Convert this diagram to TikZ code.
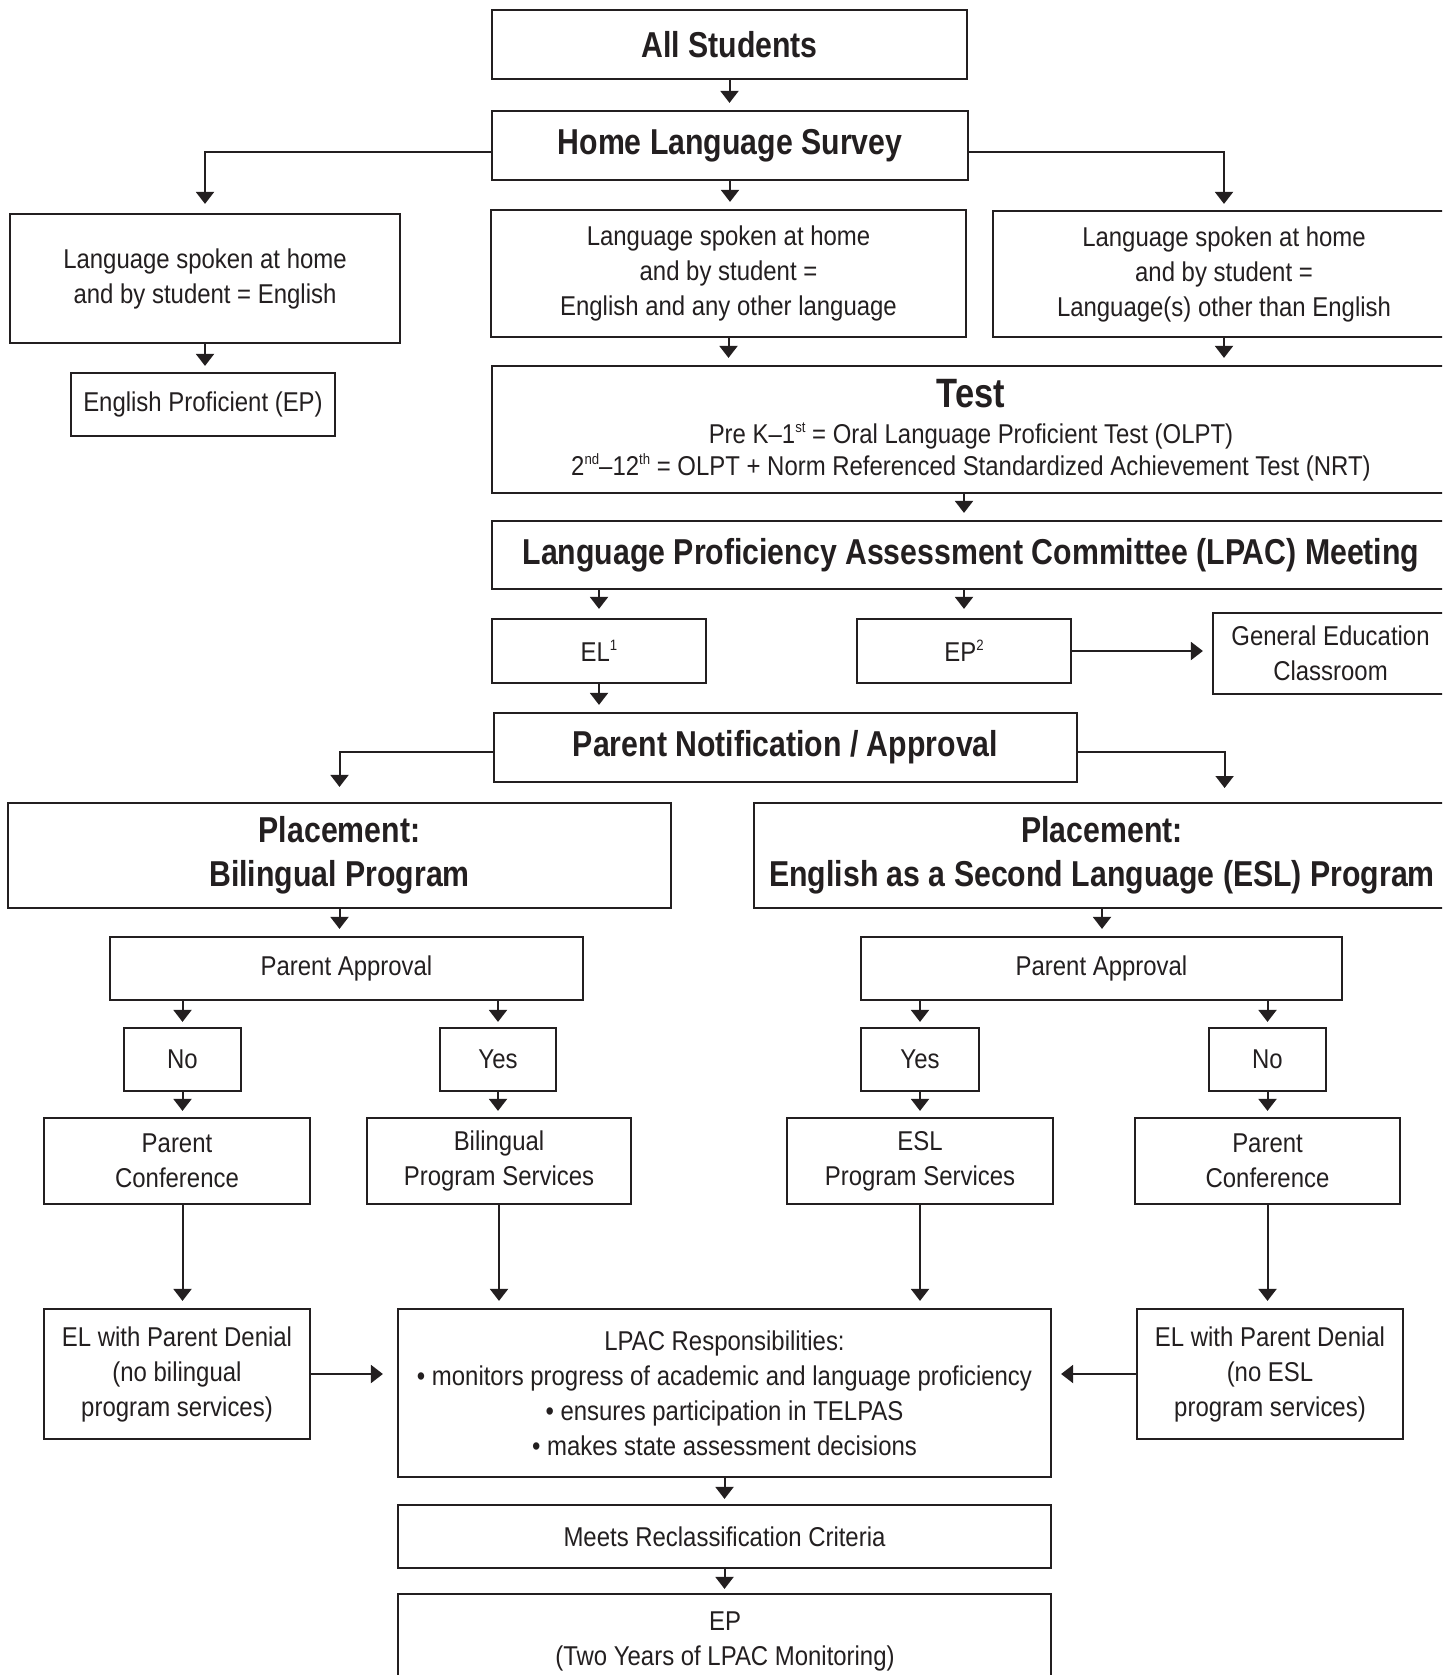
\documentclass[tikz,border=0pt]{standalone}
\usepackage{fontspec}
\setmainfont{Liberation Sans}[FakeStretch=0.88]
\newfontfamily\bfam{Liberation Sans}[FakeStretch=0.84]
\usetikzlibrary{arrows.meta}
\definecolor{ink}{HTML}{231F20}
\newcommand\fReg{\fontsize{13.6pt}{17.5pt}\selectfont}
\newcommand\fBold{\bfam\fontsize{18pt}{22pt}\selectfont\bfseries}
\newcommand\fTest{\bfam\fontsize{20.5pt}{24pt}\selectfont\bfseries}
\newcommand\sps[1]{\raisebox{0.75ex}{\fontsize{7.5pt}{7.5pt}\selectfont #1}}
\tikzset{
  bx/.style={draw=ink, line width=1.1pt, inner sep=0pt, align=center, text=ink, font=\fReg},
  bb/.style={bx, font=\fBold},
  wh/.style 2 args={minimum width=#1*0.5pt, minimum height=#2*0.5pt},
  txt/.style={anchor=base, text=ink, inner sep=0pt},
  arr/.style={draw=ink, line width=1pt, -{Triangle[width=9pt,length=6pt]}, shorten >=3.5pt},
}
\begin{document}
\begin{tikzpicture}[x=0.5pt,y=-0.5pt]
\useasboundingbox (0,0) rectangle (1442,1675);
\fill[white] (0,0) rectangle (1442,1675);
\clip (0,0) rectangle (1442,1675);

% boxes
\node[bb, wh={475}{69}] (all) at (729.5,44.5) {All Students};
\node[bb, wh={476}{69}] (hls) at (730,145.5) {Home Language Survey};
\node[bx, wh={390}{129}] (eng) at (205,278.5) {Language spoken at home\\and by student = English};
\node[bx, wh={264}{63}] (ep0) at (203,404.5) {English Proficient (EP)};
\node[bx, wh={475}{127}] (mix) at (728.5,273.5) {Language spoken at home\\and by student =\\English and any other language};
\node[bx, wh={462}{126}] (oth) at (1224,274) {Language spoken at home\\and by student =\\Language(s) other than English};
\node[bx, wh={958}{127}] (test) at (971,429.5) {};
\node[txt, font=\fTest] (testA) at (971,407) {Test};
\node[txt, font=\fReg] (testB) at (971,443) {Pre K--1\sps{st} = Oral Language Proficient Test (OLPT)};
\node[txt, font=\fReg] (testC) at (971,475) {2\sps{nd}--12\sps{th} = OLPT + Norm Referenced Standardized Achievement Test (NRT)};
\node[bb, wh={958}{68}] (lpac) at (971,555) {Language Proficiency Assessment Committee (LPAC) Meeting};
\node[bx, wh={214}{64}] (el) at (599,651) {EL\sps{1}};
\node[bx, wh={214}{64}] (ep) at (964,651) {EP\sps{2}};
\node[bx, wh={235}{81}] (gen) at (1330.5,653.5) {General Education\\Classroom};
\node[bb, wh={583}{69}] (pn) at (785.5,747.5) {Parent Notification / Approval};
\node[bb, wh={663}{105}] (pbil) at (339.5,855.5) {Placement:\\Bilingual Program};
\node[bb, wh={696}{105}] (pesl) at (1102,855.5) {Placement:\\English as a Second Language (ESL) Program};
\coordinate (esltop) at (1224.6,803);
\node[bx, wh={473}{63}] (pa1) at (346.5,968.5) {Parent Approval};
\node[bx, wh={481}{63}] (pa2) at (1101.5,968.5) {Parent Approval};
\node[bx, wh={117}{63}] (no1) at (182.5,1059.5) {No};
\node[bx, wh={116}{63}] (yes1) at (498,1059.5) {Yes};
\node[bx, wh={118}{63}] (yes2) at (920,1059.5) {Yes};
\node[bx, wh={117}{63}] (no2) at (1267.5,1059.5) {No};
\node[bx, wh={266}{86}] (pc1) at (177,1161) {Parent\\Conference};
\node[bx, wh={264}{86}] (bps) at (499,1161) {Bilingual\\Program Services};
\node[bx, wh={266}{86}] (eps) at (920,1161) {ESL\\Program Services};
\node[bx, wh={265}{86}] (pc2) at (1267.5,1161) {Parent\\Conference};
\node[bx, wh={266}{130}] (den1) at (177,1374) {EL with Parent Denial\\(no bilingual\\program services)};
\node[bx, wh={653}{168}] (resp) at (724.5,1393) {LPAC Responsibilities:\\• monitors progress of academic and language proficiency\\• ensures participation in TELPAS\\• makes state assessment decisions};
\node[bx, wh={266}{130}] (den2) at (1270,1374) {EL with Parent Denial\\(no ESL\\program services)};
\node[bx, wh={653}{63}] (meets) at (724.5,1536.5) {Meets Reclassification Criteria};
\node[bx, wh={653}{106}] (epf) at (724.5,1647) {};
\node[txt, font=\fReg] (epfA) at (725,1630) {EP};
\node[txt, font=\fReg] (epfB) at (725,1665) {(Two Years of LPAC Monitoring)};

% connectors
\draw[arr] (all.south) -- (all.south |- hls.north);
\draw[arr, shorten >=4.5pt] ([yshift=-3pt]hls.west) -| (eng.north);
\draw[arr, shorten >=3pt] ([yshift=-3pt]hls.east) -| (oth.north);
\draw[arr] (hls.south) -- (hls.south |- mix.north);
\draw[arr, shorten >=3pt] (eng.south) -- (eng.south |- ep0.north);
\draw[arr] (mix.south) -- (mix.south |- test.north);
\draw[arr] (oth.south) -- (oth.south |- test.north);
\draw[arr] (test.south -| ep) -- (lpac.north -| ep);
\draw[arr, shorten >=4.5pt] (lpac.south -| el) -- (el.north);
\draw[arr, shorten >=4.5pt] (lpac.south -| ep) -- (ep.north);
\draw[arr, shorten >=4.5pt] (ep.east) -- (ep.east -| gen.west);
\draw[arr] (el.south) -- (el.south |- pn.north);
\draw[arr, shorten >=7.5pt] ([yshift=-2pt]pn.west) -| (pbil.north);
\draw[arr, shorten >=7.5pt] ([yshift=-2pt]pn.east) -| (esltop);
\draw[arr] (pbil.south) -- (pbil.south |- pa1.north);
\draw[arr] (pesl.south) -- (pesl.south |- pa2.north);
\draw[arr, shorten >=2.5pt] (pa1.south -| no1) -- (no1.north);
\draw[arr, shorten >=2.5pt] (pa1.south -| yes1) -- (yes1.north);
\draw[arr, shorten >=2.5pt] (pa2.south -| yes2) -- (yes2.north);
\draw[arr, shorten >=2.5pt] (pa2.south -| no2) -- (no2.north);
\draw[arr, shorten >=3pt] (no1.south) -- (no1.south |- pc1.north);
\draw[arr, shorten >=3pt] (yes1.south) -- (yes1.south |- bps.north);
\draw[arr, shorten >=3pt] (yes2.south) -- (yes2.south |- eps.north);
\draw[arr, shorten >=3pt] (no2.south) -- (no2.south |- pc2.north);
\draw[arr] (pc1.south -| no1) -- (den1.north -| no1);
\draw[arr] (bps.south) -- (bps.south |- resp.north);
\draw[arr] (eps.south) -- (eps.south |- resp.north);
\draw[arr] (pc2.south -| no2) -- (den2.north -| no2);
\draw[arr, shorten >=7pt] (den1.east) -- (den1.east -| resp.west);
\draw[arr, shorten >=4.5pt] (den2.west) -- (den2.west -| resp.east);
\draw[arr, shorten >=2.5pt] (resp.south) -- (resp.south |- meets.north);
\draw[arr, shorten >=2pt] (meets.south) -- (meets.south |- epf.north);
\end{tikzpicture}
\end{document}
